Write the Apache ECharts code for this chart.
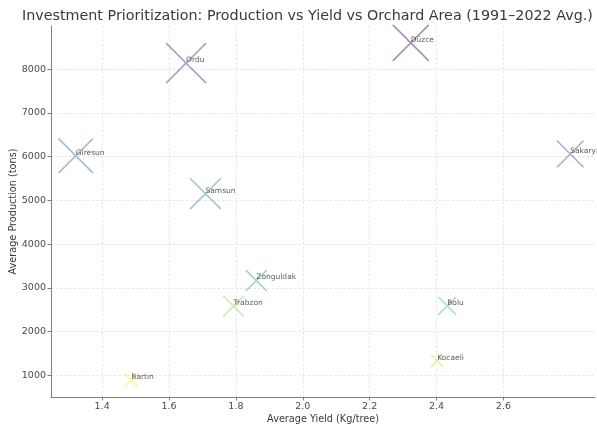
<!DOCTYPE html>
<html>
<head>
<meta charset="utf-8">
<script src="https://cdn.jsdelivr.net/npm/echarts@6/dist/echarts.min.js"></script>
<style>
  html, body { margin: 0; padding: 0; background: #fff; }
  #chart { width: 597px; height: 428px; }
</style>
</head>
<body>
<div id="chart"></div>
<script>
// Province averages, 1991–2022
const provinces  = ['Bartın', 'Bolu', 'Düzce', 'Giresun', 'Kocaeli', 'Ordu', 'Sakarya', 'Samsun', 'Trabzon', 'Zonguldak'];
const avgYield   = [1.487, 2.432, 2.323, 1.321, 2.402, 1.651, 2.800, 1.709, 1.793, 1.861];   // kg/tree
const avgProd    = [893, 2589, 8600, 6020, 1333, 8137, 6060, 5153, 2582, 3169];              // tons
const orchardArea = [17, 32, 130, 118, 15, 160, 70, 96, 44, 44];                              // relative orchard area

// Tick values
const xTicks = [1.4, 1.6, 1.8, 2.0, 2.2, 2.4, 2.6];
const yTicks = [1000, 2000, 3000, 4000, 5000, 6000, 7000, 8000];

// Marker colours (viridis steps), one per province
const markerColors = ['#fde725', '#3fbc73', '#440154', '#31688e', '#bddf26', '#482878', '#414487', '#26828e', '#7ad151', '#20a486'];

function hexToRgba(hex, a) {
  const n = parseInt(hex.slice(1), 16);
  return 'rgba(' + ((n >> 16) & 255) + ',' + ((n >> 8) & 255) + ',' + (n & 255) + ',' + a + ')';
}

const points = provinces.map((name, i) => ({
  name: name,
  value: [avgYield[i], avgProd[i]],
  symbolSize: Math.sqrt(orchardArea[i]) * 3.16,
  itemStyle: { color: 'rgba(0,0,0,0)', borderColor: hexToRgba(markerColors[i], 0.55), borderWidth: 1.6 }
}));

const font = 'DejaVu Sans';
const chart = echarts.init(document.getElementById('chart'), null, { renderer: 'canvas' });
chart.setOption({
  animation: false,
  backgroundColor: '#ffffff',
  title: {
    text: 'Investment Prioritization: Production vs Yield vs Orchard Area (1991–2022 Avg.)',
    left: 22, top: 9, padding: 0,
    textStyle: { fontFamily: font, fontSize: 14.3, fontWeight: 'normal', color: '#3a3a3a' }
  },
  grid: { left: 51, right: 2, top: 26, bottom: 31, containLabel: false, outerBoundsMode: 'none' },
  xAxis: {
    type: 'value',
    min: 1.247, max: 2.874,
    name: 'Average Yield (Kg/tree)',
    nameLocation: 'middle', nameGap: 17, nameMoveOverlap: false,
    nameTextStyle: { fontFamily: font, fontSize: 9.7, color: '#3a3a3a', verticalAlign: 'top' },
    axisLine: { show: true, onZero: false, lineStyle: { color: '#808080', width: 1 } },
    axisTick: { show: true, length: 3.5, lineStyle: { color: '#808080' }, customValues: xTicks },
    axisLabel: { fontFamily: font, fontSize: 9.5, color: '#4a4a4a', margin: 5, customValues: xTicks,
                 formatter: v => v.toFixed(1) },
    splitLine: { show: true, lineStyle: { color: '#e0e0e0', type: [2.5, 2], width: 0.8 } }
  },
  yAxis: {
    type: 'value',
    min: 508, max: 8985,
    name: 'Average Production (tons)',
    nameLocation: 'middle', nameGap: 33, nameRotate: 90, nameMoveOverlap: false,
    nameTextStyle: { fontFamily: font, fontSize: 9.7, color: '#3a3a3a' },
    axisLine: { show: true, onZero: false, lineStyle: { color: '#808080', width: 1 } },
    axisTick: { show: true, length: 3.5, lineStyle: { color: '#808080' }, customValues: yTicks },
    axisLabel: { fontFamily: font, fontSize: 9.5, color: '#4a4a4a', margin: 5, customValues: yTicks,
                 formatter: v => String(v) },
    splitLine: { show: true, lineStyle: { color: '#e0e0e0', type: [2.5, 2], width: 0.8 } }
  },
  series: [{
    type: 'scatter',
    symbol: 'path://M0,0L10,10M10,0L0,10',
    data: points,
    clip: false,
    label: {
      show: true,
      formatter: p => p.name,
      position: 'inside',
      align: 'left',
      verticalAlign: 'middle',
      offset: [0, -3],
      fontFamily: font, fontSize: 7.5, color: '#333'
    },
    emphasis: { disabled: true }
  }]
});
</script>
</body>
</html>
